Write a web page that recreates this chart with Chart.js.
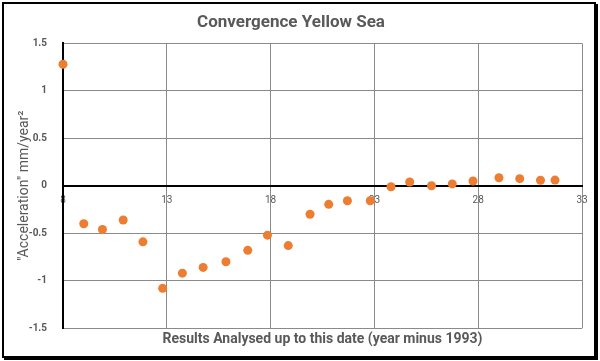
<!DOCTYPE html>
<html>
<head>
<meta charset="utf-8">
<script src="https://cdn.jsdelivr.net/npm/chart.js@4.4.1/dist/chart.umd.min.js"></script>
<style>
    body { margin: 0; background: #fff; }
    #wrap { position: relative; width: 600px; height: 361px; }
    #frame {
        position: absolute; left: 2px; top: 2px; width: 590px; height: 352px;
        border: 2px solid #000; box-shadow: 2px 2px 0 #000;
    }
    #chart { position: absolute; left: 0; top: 0; }
</style>
</head>
<body>
<div id="wrap">
    <div id="frame"></div>
    <canvas id="chart" width="600" height="361"></canvas>
</div>
<script>
// years after 1993 at which the results were analysed
const analysisYears = [8, 9.0, 9.9, 10.9, 11.85, 12.8, 13.75, 14.75, 15.85, 16.9, 17.85, 18.85,
    19.9, 20.8, 21.7, 22.8, 23.8, 24.7, 25.75, 26.75, 27.75, 29.0, 30.0, 31.0, 31.7];
// acceleration in mm/year^2
const acceleration = [1.28, -0.40, -0.46, -0.36, -0.59, -1.08, -0.92, -0.86, -0.80, -0.68, -0.52, -0.63,
    -0.30, -0.195, -0.157, -0.157, -0.01, 0.04, 0.0, 0.02, 0.05, 0.085, 0.075, 0.058, 0.06];
const xTicks = [8, 13, 18, 23, 28, 33];
const yTicks = [-1.5, -1, -0.5, 0, 0.5, 1, 1.5];

const points = analysisYears.map((x, i) => ({ x: x, y: acceleration[i] }));
const gridGrey = '#8a8a8a';
const textGrey = '#595959';

new Chart(document.getElementById('chart'), {
    type: 'scatter',
    data: {
        datasets: [{
            data: points,
            backgroundColor: '#ED7D31',
            borderColor: '#ED7D31',
            borderWidth: 0,
            pointRadius: 4.5,
            clip: false
        }]
    },
    options: {
        responsive: false,
        animation: false,
        layout: { padding: { left: 0, right: 18, top: 0, bottom: 0 } },
        plugins: {
            legend: { display: false },
            tooltip: { enabled: false },
            title: {
                display: true,
                text: 'Convergence Yellow Sea',
                color: textGrey,
                font: { family: 'Roboto', size: 17, weight: 'bold' },
                padding: { top: 13, bottom: 10 }
            },
            subtitle: {
                display: true,
                position: 'bottom',
                fullSize: false,
                text: 'Results Analysed up to this date (year minus 1993)',
                color: textGrey,
                font: { family: 'Roboto', size: 14, weight: 'bold' },
                padding: { top: 3, bottom: 13 }
            }
        },
        scales: {
            x: {
                type: 'linear',
                position: { y: 0 },
                min: 8,
                max: 33,
                afterBuildTicks: s => { s.ticks = xTicks.map(v => ({ value: v })); },
                ticks: {
                    color: textGrey,
                    padding: 9,
                    maxRotation: 0,
                    font: { family: 'Roboto', size: 10 }
                },
                grid: { color: gridGrey, lineWidth: 1, drawTicks: false },
                border: { color: '#000', width: 2 }
            },
            y: {
                min: -1.5,
                max: 1.5,
                afterBuildTicks: s => { s.ticks = yTicks.map(v => ({ value: v })); },
                afterFit: s => { s.width = 63; },
                ticks: {
                    color: textGrey,
                    padding: 16,
                    callback: v => String(v),
                    font: { family: 'Roboto', size: 10, weight: 'bold' }
                },
                grid: {
                    drawTicks: false,
                    color: c => c.tick && c.tick.value === 0 ? '#000' : gridGrey,
                    lineWidth: c => c.tick && c.tick.value === 0 ? 2 : 1
                },
                border: { color: '#000', width: 2 },
                title: {
                    display: true,
                    text: '"Acceleration" mm/year²',
                    color: textGrey,
                    font: { family: 'Roboto', size: 14 },
                    padding: { top: 16, bottom: 0 }
                }
            }
        }
    }
});
</script>
</body>
</html>
